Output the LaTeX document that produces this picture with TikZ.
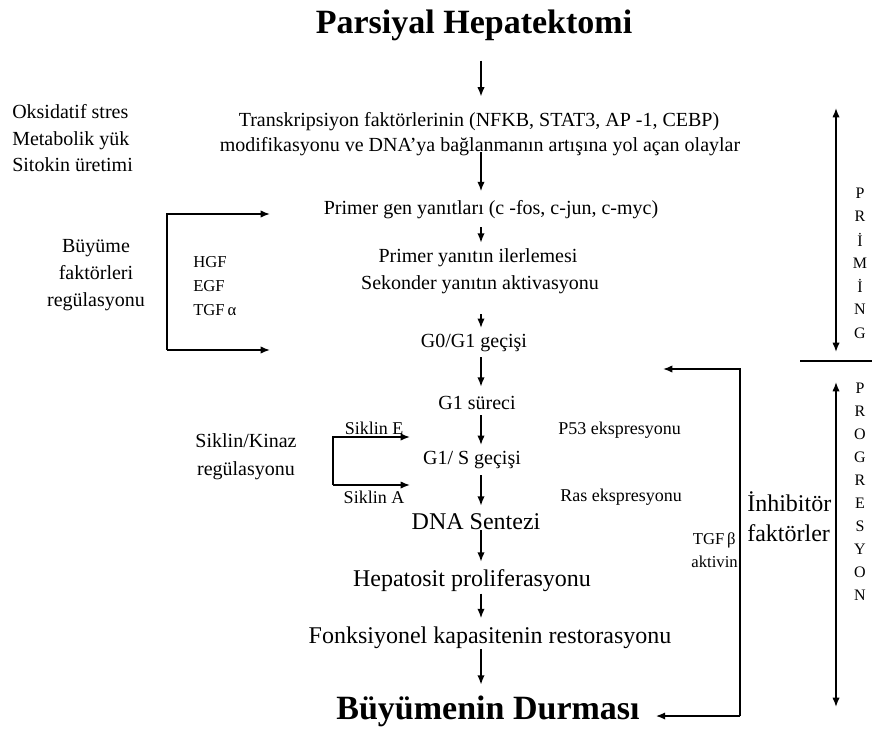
\documentclass[tikz,border=0pt]{standalone}
\usepackage{fontspec}
\setmainfont{Liberation Serif}
\usetikzlibrary{arrows.meta}
\begin{document}
\begin{tikzpicture}[x=0.75pt,y=-0.75pt,
  txt/.style={inner sep=0pt, font=\fontsize{15}{20}\selectfont},
  big/.style={inner sep=0pt, font=\fontsize{18}{20}\selectfont},
  small/.style={inner sep=0pt, font=\fontsize{13.5}{15}\selectfont},
  tiny/.style={inner sep=0pt, font=\fontsize{12.5}{15}\selectfont},
  head/.style={inner sep=0pt, font=\bfseries\fontsize{25.5}{30}\selectfont},
  ltr/.style={inner sep=0pt, font=\fontsize{12}{14}\selectfont},
  ln/.style={line width=1.1pt, line join=miter},
  arr/.style={ln, -{Latex[length=7pt,width=5.5pt]}},
  darr/.style={ln, {Latex[length=7pt,width=5.5pt]}-{Latex[length=7pt,width=5.5pt]}}]
\useasboundingbox (0,0) rectangle (874,732);
\coordinate (ax) at (481,0);
% main chain
\node[head] (title) at (474,25) {Parsiyal Hepatektomi};
\node[txt] (tf1) at (479,122) {Transkripsiyon faktörlerinin (NFKB, STAT3, AP -1, CEBP)};
\node[txt] (tf2) at (480,147) {modifikasyonu ve DNA’ya bağlanmanın artışına yol açan olaylar};
\node[txt] (pg) at (491,210) {Primer gen yanıtları (c -fos, c-jun, c-myc)};
\node[txt] (py) at (478,258) {Primer yanıtın ilerlemesi};
\node[txt] (sy) at (480,285) {Sekonder yanıtın aktivasyonu};
\node[txt] (g0) at (474,343) {G0/G1 geçişi};
\node[txt] (g1) at (477,403) {G1 süreci};
\node[txt] (gs) at (472,460) {G1/ S geçişi};
\node[big] (dna) at (476,522) {DNA Sentezi};
\node[big] (hep) at (472,581) {Hepatosit proliferasyonu};
\node[big] (fon) at (490,638) {Fonksiyonel kapasitenin restorasyonu};
\node[head] (stop) at (488,711) {Büyümenin Durması};

\draw[arr, shorten <=15pt, shorten >=12pt] (title.south -| ax) -- (tf1.north -| ax);
\draw[arr, shorten <=4pt, shorten >=7pt] (tf2.center -| ax) -- (pg.north -| ax);
\draw[arr, shorten <=6pt, shorten >=4.5pt] (pg.south -| ax) -- (py.north -| ax);
\draw[arr, shorten <=15pt, shorten >=4.5pt] (sy.south -| ax) -- (g0.north -| ax);
\draw[arr, shorten <=4pt, shorten >=7pt] (g0.south -| ax) -- (g1.north -| ax);
\draw[arr, shorten <=4pt, shorten >=4.5pt] (g1.south -| ax) -- (gs.north -| ax);
\draw[arr, shorten <=4.5pt, shorten >=6pt] (gs.south -| ax) -- (dna.north -| ax);
\draw[arr, shorten <=0pt, shorten >=6pt] (dna.south -| ax) -- (hep.north -| ax);
\draw[arr, shorten <=1pt, shorten >=6.5pt] (hep.south -| ax) -- (fon.north -| ax);
\draw[arr, shorten <=0pt, shorten >=8pt] (fon.south -| ax) -- (stop.north -| ax);

% left texts
\node[txt, anchor=base west] (oks) at (12,118) {Oksidatif stres};
\node[txt, anchor=base west] (met) at (12,145) {Metabolik yük};
\node[txt, anchor=base west] (sit) at (12,171) {Sitokin üretimi};
\node[txt, align=center, font=\fontsize{15}{20}\selectfont] (buy) at (96,275) {Büyüme\\faktörleri\\regülasyonu};
\node[tiny, anchor=west] (hgf) at (193,262) {HGF};
\node[tiny, anchor=west] (egf) at (193,286) {EGF};
\node[tiny, anchor=west] (tgfa) at (193,310) {TGF\,α};
\coordinate (bu1) at (167,214);
\coordinate (bu2) at (167,350);
\coordinate (bt1) at (270,214);
\coordinate (bt2) at (270,350);
\draw[arr] (bu2) -- (bu1) -- (bt1);
\draw[arr] (bu2) -- (bt2);

% siklin
\node[txt, align=center, font=\fontsize{15}{21}\selectfont] (sk) at (246,457) {Siklin/Kinaz\\regülasyonu};
\node[small] (ske) at (374,428) {Siklin E};
\node[small] (ska) at (374,497) {Siklin A};
\coordinate (sk1) at (333,437);
\coordinate (sk2) at (333,485);
\coordinate (st1) at (410,437);
\coordinate (st2) at (410,485);
\draw[arr] (sk2) -- (sk1) -- (st1);
\draw[arr] (sk2) -- (st2);
\node[small, anchor=west] (p53) at (558,430) {P53 ekspresyonu};
\node[small, anchor=west] (ras) at (560,497) {Ras ekspresyonu};

% feedback
\node[tiny, anchor=east] (tgfb) at (736,540) {TGF\,β};
\node[tiny, anchor=east] (akt) at (738,562) {aktivin};
\node[big, anchor=west] (inh1) at (747,502) {İnhibitör};
\node[big, anchor=west] (inh2) at (747,533) {faktörler};
\coordinate (fb1) at (740,369);
\coordinate (fb2) at (740,716);
\coordinate (fbt) at (663,369);
\draw[arr] (fb2) -- (fb1) -- (fbt);
\draw[arr, shorten >=12pt] (fb2) -- (stop.east |- fb2);

% phases
\coordinate (pr1) at (836,108);
\coordinate (pr2) at (836,352);
\coordinate (pp1) at (836,382);
\coordinate (pp2) at (836,707);
\coordinate (dv1) at (800,361);
\coordinate (dv2) at (872,361);
\draw[darr] (pr1) -- (pr2);
\draw[darr] (pp1) -- (pp2);
\draw[ln] (dv1) -- (dv2);
\foreach \l [count=\i from 0] in {P,R,İ,M,İ,N,G}
  \node[ltr] (pri\i) at (860,{193+23.3*\i}) {\l};
\foreach \l [count=\i from 0] in {P,R,O,G,R,E,S,Y,O,N}
  \node[ltr] (pro\i) at (860,{388+23*\i}) {\l};
\end{tikzpicture}
\end{document}
